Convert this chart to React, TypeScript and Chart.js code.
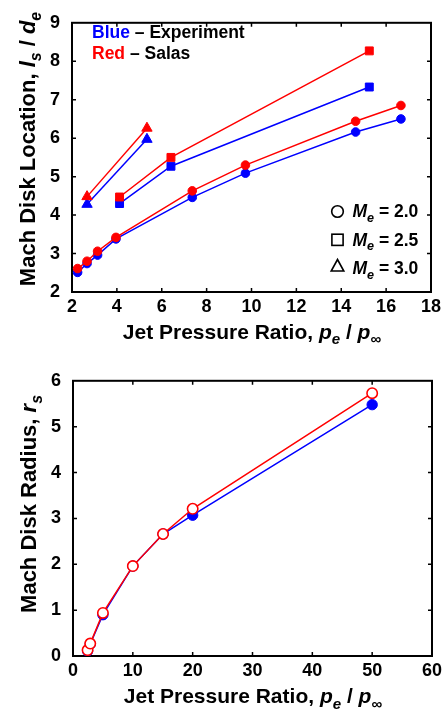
import React, { useEffect, useRef } from "react";
import { Chart, registerables } from "chart.js";

Chart.register(...registerables);

// ---------- Data ----------
// Top chart: Mach disk location vs jet pressure ratio
const topXM20 = [2.25, 2.67, 3.14, 3.96, 7.36, 9.73, 14.64, 16.66];
const topExpM20 = [2.51, 2.74, 2.96, 3.38, 4.46, 5.09, 6.16, 6.5];
const topSalasM20 = [2.61, 2.8, 3.06, 3.42, 4.63, 5.3, 6.44, 6.85];

const topXM25 = [4.12, 6.41, 15.25];
const topExpM25 = [4.3, 5.27, 7.33];
const topSalasM25 = [4.47, 5.5, 8.27];

const topXM30 = [2.67, 5.34];
const topExpM30 = [4.28, 5.97];
const topSalasM30 = [4.48, 6.26];

// Bottom chart: Mach disk radius vs jet pressure ratio
const radiusX = [2.44, 2.88, 5.0, 10.0, 15.05, 20.0, 50.0];
const radiusExp = [0.11, 0.26, 0.9, 1.96, 2.66, 3.07, 5.48];
const radiusSalas = [0.13, 0.27, 0.94, 1.96, 2.66, 3.21, 5.73];

const legendMach = ["2.0", "2.5", "3.0"];

const BLUE = "#0000ff";
const RED = "#ff0000";
const FONT = '"Liberation Sans", Arial, Helvetica, sans-serif';

type Seg = { t: string; c?: string; i?: boolean; sub?: boolean };

function segFont(s: Seg, size: number) {
  const sz = s.sub ? size * 0.72 : size;
  return `${s.i ? "italic " : ""}bold ${sz}px ${FONT}`;
}

function drawRich(
  ctx: CanvasRenderingContext2D,
  segs: Seg[],
  x: number,
  y: number,
  size: number,
  align: "left" | "center",
  rotate: boolean
) {
  ctx.save();
  ctx.textBaseline = "alphabetic";
  ctx.textAlign = "left";
  let total = 0;
  const widths = segs.map((s) => {
    ctx.font = segFont(s, size);
    const w = ctx.measureText(s.t).width;
    total += w;
    return w;
  });
  ctx.translate(x, y);
  if (rotate) ctx.rotate(-Math.PI / 2);
  let cx = align === "center" ? -total / 2 : 0;
  segs.forEach((s, k) => {
    ctx.font = segFont(s, size);
    ctx.fillStyle = s.c || "#000";
    ctx.fillText(s.t, cx, s.sub ? size * 0.28 : 0);
    cx += widths[k];
  });
  ctx.restore();
}

const pts = (xs: number[], ys: number[]) => xs.map((x, i) => ({ x, y: ys[i] }));

function framePlugin(id: string) {
  return {
    id,
    beforeDatasetsDraw(chart: any) {
      const { ctx, chartArea } = chart;
      const { left, right, top, bottom } = chartArea;
      const xs = chart.scales.x;
      const ys = chart.scales.y;
      ctx.save();
      ctx.strokeStyle = "#000";
      ctx.lineWidth = 1.5;
      const tl = 4;
      xs.ticks.forEach((t: any) => {
        const px = xs.getPixelForValue(t.value);
        if (Math.abs(px - left) < 1 || Math.abs(px - right) < 1) return;
        ctx.beginPath();
        ctx.moveTo(px, bottom);
        ctx.lineTo(px, bottom - tl);
        ctx.moveTo(px, top);
        ctx.lineTo(px, top + tl);
        ctx.stroke();
      });
      ys.ticks.forEach((t: any) => {
        const py = ys.getPixelForValue(t.value);
        if (Math.abs(py - top) < 1 || Math.abs(py - bottom) < 1) return;
        ctx.beginPath();
        ctx.moveTo(left, py);
        ctx.lineTo(left + tl, py);
        ctx.moveTo(right, py);
        ctx.lineTo(right - tl, py);
        ctx.stroke();
      });
      ctx.lineWidth = 2;
      ctx.strokeRect(left, top, right - left, bottom - top);
      ctx.restore();
    },
  };
}

function topTextPlugin() {
  return {
    id: "topText",
    afterDraw(chart: any) {
      const ctx = chart.ctx as CanvasRenderingContext2D;
      // legend colour text
      drawRich(ctx, [{ t: "Blue", c: BLUE }, { t: " \u2013 Experiment" }], 92, 37.5, 17.5, "left", false);
      drawRich(ctx, [{ t: "Red", c: RED }, { t: " \u2013 Salas" }], 92, 58.5, 17.5, "left", false);
      // shape legend
      const rows = [217, 245.5, 274];
      const cx = 337.5;
      ctx.save();
      ctx.strokeStyle = "#000";
      ctx.lineWidth = 1.6;
      // circle
      ctx.beginPath();
      ctx.arc(cx, rows[0] - 5.5, 5.8, 0, Math.PI * 2);
      ctx.stroke();
      // square
      ctx.strokeRect(cx - 5.6, rows[1] - 11.3, 11.2, 11.2);
      // triangle
      ctx.beginPath();
      ctx.moveTo(cx, rows[2] - 14.5);
      ctx.lineTo(cx + 6.3, rows[2] - 3);
      ctx.lineTo(cx - 6.3, rows[2] - 3);
      ctx.closePath();
      ctx.stroke();
      ctx.restore();
      legendMach.forEach((m, k) => {
        drawRich(ctx, [{ t: "M", i: true }, { t: "e", i: true, sub: true }, { t: " = " + m }], 352.5, rows[k], 17.5, "left", false);
      });
      // axis titles
      drawRich(
        ctx,
        [{ t: "Jet Pressure Ratio, " }, { t: "p", i: true }, { t: "e", i: true, sub: true }, { t: " / " }, { t: "p", i: true }, { t: "\u221e", sub: true }],
        252,
        338.5,
        21,
        "center",
        false
      );
      drawRich(
        ctx,
        [{ t: "Mach Disk Location, " }, { t: "l", i: true }, { t: "s", i: true, sub: true }, { t: " / " }, { t: "d", i: true }, { t: "e", i: true, sub: true }],
        35,
        149,
        22,
        "center",
        true
      );
    },
  };
}

function bottomTextPlugin() {
  return {
    id: "bottomText",
    afterDraw(chart: any) {
      const ctx = chart.ctx as CanvasRenderingContext2D;
      drawRich(
        ctx,
        [{ t: "Jet Pressure Ratio, " }, { t: "p", i: true }, { t: "e", i: true, sub: true }, { t: " / " }, { t: "p", i: true }, { t: "\u221e", sub: true }],
        253,
        345,
        21,
        "center",
        false
      );
      drawRich(ctx, [{ t: "Mach Disk Radius, " }, { t: "r", i: true }, { t: "s", i: true, sub: true }], 36, 146, 22, "center", true);
    },
  };
}

const tickFont = { size: 18, weight: "bold" as const, family: FONT };

function scales(xmin: number, xmax: number, xstep: number, ymin: number, ymax: number, ystep: number, yWidth: number, xHeight: number) {
  return {
    x: {
      type: "linear" as const,
      min: xmin,
      max: xmax,
      ticks: { stepSize: xstep, font: tickFont, color: "#000", padding: 4, maxRotation: 0 },
      grid: { display: false, drawTicks: false },
      border: { display: false },
      afterFit: (s: any) => {
        s.height = xHeight;
      },
    },
    y: {
      type: "linear" as const,
      min: ymin,
      max: ymax,
      ticks: { stepSize: ystep, font: tickFont, color: "#000", padding: 12 },
      grid: { display: false, drawTicks: false },
      border: { display: false },
      afterFit: (s: any) => {
        s.width = yWidth;
      },
    },
  };
}

function line(label: string, data: any[], color: string, style: string, radius: number, order: number, open = false) {
  return {
    label,
    data,
    showLine: true,
    borderColor: color,
    backgroundColor: color,
    borderWidth: 1.5,
    pointStyle: style,
    pointRadius: radius,
    pointBackgroundColor: open ? "#ffffff" : color,
    pointBorderColor: color,
    pointBorderWidth: open ? 1.6 : 1,
    order,
  };
}

function ChartBox({ w, h, make }: { w: number; h: number; make: () => any }) {
  const ref = useRef<HTMLCanvasElement | null>(null);
  useEffect(() => {
    const c = new Chart(ref.current as HTMLCanvasElement, make());
    return () => c.destroy();
  }, []);
  return <canvas ref={ref} width={w} height={h} style={{ display: "block", width: w, height: h }} />;
}

const baseOptions = {
  responsive: false,
  animation: false as const,
  plugins: { legend: { display: false }, tooltip: { enabled: false } },
};

export default function App() {
  const makeTop = () => ({
    type: "scatter" as const,
    data: {
      datasets: [
        line("Salas Me=2.0", pts(topXM20, topSalasM20), RED, "circle", 4.3, 0),
        line("Salas Me=2.5", pts(topXM25, topSalasM25), RED, "rect", 5.6, 0),
        line("Salas Me=3.0", pts(topXM30, topSalasM30), RED, "triangle", 6, 0),
        line("Experiment Me=2.0", pts(topXM20, topExpM20), BLUE, "circle", 4.3, 1),
        line("Experiment Me=2.5", pts(topXM25, topExpM25), BLUE, "rect", 5.6, 1),
        line("Experiment Me=3.0", pts(topXM30, topExpM30), BLUE, "triangle", 6, 1),
      ],
    },
    options: {
      ...baseOptions,
      layout: { padding: { left: 0, right: 17, top: 9, bottom: 0 } },
      scales: scales(2, 18, 2, 2, 9, 1, 72, 66),
    },
    plugins: [framePlugin("frameTop"), topTextPlugin()],
  });

  const makeBottom = () => ({
    type: "scatter" as const,
    data: {
      datasets: [
        line("Salas", pts(radiusX, radiusSalas), RED, "circle", 5.2, 0, true),
        line("Experiment", pts(radiusX, radiusExp), BLUE, "circle", 5.2, 1),
      ],
    },
    options: {
      ...baseOptions,
      layout: { padding: { left: 0, right: 16, top: 16, bottom: 0 } },
      scales: scales(0, 60, 10, 0, 6, 1, 73, 59),
    },
    plugins: [framePlugin("frameBottom"), bottomTextPlugin()],
  });

  return (
    <div style={{ position: "absolute", left: 0, top: 0, width: 448, height: 715, background: "#fff" }}>
      <ChartBox w={448} h={358} make={makeTop} />
      <ChartBox w={448} h={357} make={makeBottom} />
    </div>
  );
}
